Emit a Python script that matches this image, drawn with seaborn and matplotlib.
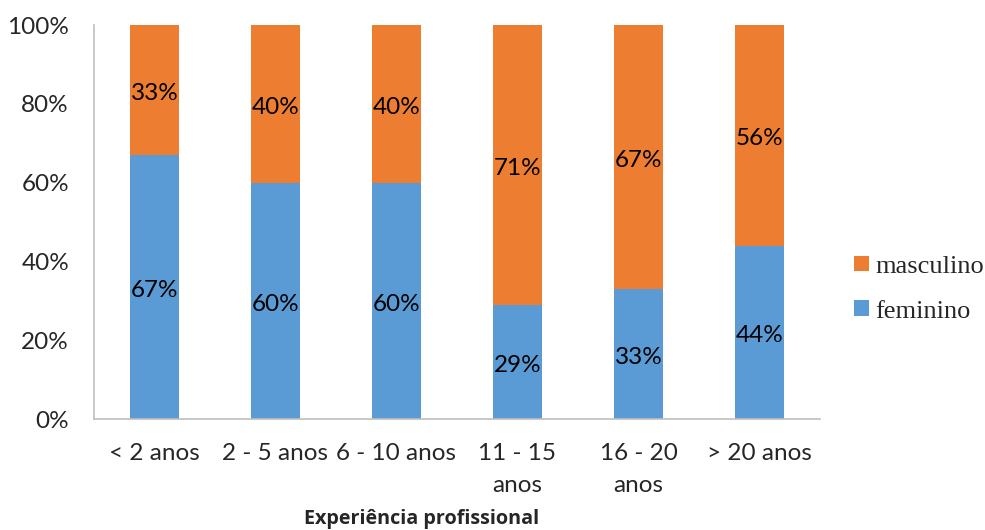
import matplotlib
matplotlib.use("Agg")
import matplotlib.pyplot as plt
import seaborn as sns
import pandas as pd
import numpy as np
from matplotlib.patches import Patch

categories = ["< 2 anos", "2 - 5 anos", "6 - 10 anos", "11 - 15\nanos", "16 - 20\nanos", "> 20 anos"]
feminino = [67, 60, 60, 29, 33, 44]
masculino = [33, 40, 40, 71, 67, 56]

df = pd.DataFrame({"cat": categories, "feminino": feminino, "masculino": masculino})
df["total"] = df["feminino"] + df["masculino"]

sns.set_theme(style="white")
plt.rcParams["font.family"] = ["Lato", "DejaVu Sans"]

c_fem = "#5B9BD5"
c_mas = "#ED7D31"
axis_col = "#BFBFBF"
fs = 17.5

fig = plt.figure(figsize=(9.85, 5.3), dpi=100)
ax = fig.add_axes([94 / 985, 1 - 419 / 530, (820 - 94) / 985, (419 - 25) / 530])

# stacked: full-height masculino bar underneath, feminino drawn over it
sns.barplot(data=df, x="cat", y="total", color=c_mas, width=0.4, ax=ax,
            saturation=1, linewidth=0)
sns.barplot(data=df, x="cat", y="feminino", color=c_fem, width=0.4, ax=ax,
            saturation=1, linewidth=0)

bars_mas = ax.containers[0]
bars_fem = ax.containers[1]
# value labels centred in each segment
for rect_m, rect_f, m, f in zip(bars_mas, bars_fem, masculino, feminino):
    xc = rect_f.get_x() + rect_f.get_width() / 2
    ax.annotate(f"{f}%", (xc, rect_f.get_height() / 2), xytext=(0, -2.5),
                textcoords="offset points", ha="center", va="center",
                fontsize=fs, color="black")
    ax.annotate(f"{m}%", (xc, f + m / 2), xytext=(0, -2.5),
                textcoords="offset points", ha="center", va="center",
                fontsize=fs, color="black")

ax.set_ylim(0, 100)
ax.set_xlim(-0.5, len(categories) - 0.5)
ax.set_yticks(np.arange(0, 101, 20))
ax.set_yticklabels([f"{t}%" for t in range(0, 101, 20)], fontsize=fs)
ax.set_xticks(range(len(categories)))
ax.set_xticklabels(categories, fontsize=fs, linespacing=1.65)
ax.set_xticks(np.arange(-0.5, len(categories), 1), minor=True)
ax.tick_params(axis="x", which="major", length=0, pad=17)
ax.tick_params(axis="x", which="minor", length=6, width=1.2, color=axis_col, direction="out")
ax.tick_params(axis="y", length=6, width=1.2, color=axis_col, direction="out", pad=12)
for lbl in ax.get_xticklabels():
    lbl.set_verticalalignment("top")

for s in ["top", "right"]:
    ax.spines[s].set_visible(False)
for s in ["left", "bottom"]:
    ax.spines[s].set_color(axis_col)
    ax.spines[s].set_linewidth(1.2)

ax.set_ylabel("")
ax.set_xlabel("")
fig.text(422 / 985, 1 - 519 / 530,
         "Experiência profissional", ha="center", va="center",
         fontsize=14.2, fontweight="bold", family=["Open Sans", "DejaVu Sans"])

handles = [Patch(facecolor=c_mas, edgecolor="none", label="masculino"),
           Patch(facecolor=c_fem, edgecolor="none", label="feminino")]
fig.legend(handles=handles, loc="center left", bbox_to_anchor=(854 / 985, 1 - 289 / 530),
           frameon=False, prop={"family": ["Liberation Serif", "DejaVu Serif"], "size": 19},
           handlelength=0.55, handleheight=0.55, handletextpad=0.25, labelspacing=0.85,
           borderaxespad=0, borderpad=0)

fig.savefig("out.png", dpi=100)
